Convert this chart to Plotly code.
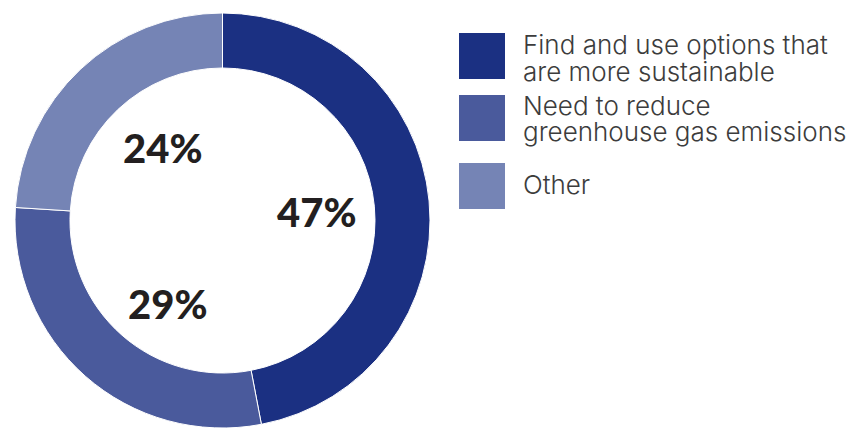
import plotly.graph_objects as go

# Survey shares
categories = [
    "Find and use options that are more sustainable",
    "Need to reduce greenhouse gas emissions",
    "Other",
]
values = [47, 29, 24]
colors = ["#1b3082", "#4a5a9c", "#7584b5"]

# legend text, split into display lines
legend_lines = [
    ["Find and use options that", "are more sustainable"],
    ["Need to reduce", "greenhouse gas emissions"],
    ["Other"],
]

W, H = 850, 428


def px(x):
    return x / W


def py(y):
    return 1 - y / H


fig = go.Figure(
    go.Pie(
        labels=categories,
        values=values,
        hole=0.735,
        sort=False,
        direction="clockwise",
        rotation=0,
        marker=dict(colors=colors, line=dict(color="white", width=1)),
        textinfo="none",
        hoverinfo="label+percent",
        showlegend=False,
        domain=dict(x=[px(15), px(430)], y=[0, py(13)]),
    )
)

# percentage labels inside the ring
label_pos = [(316, 212), (167, 304), (162, 148)]
annotations = []
for v, (x, y) in zip(values, label_pos):
    annotations.append(dict(
        x=px(x), y=py(y), xref="paper", yref="paper",
        text=f"{v}%", showarrow=False, xanchor="center", yanchor="middle",
        font=dict(family="Lato", size=40, color="#231f20", weight=900),
    ))

# legend swatches and text
swatch_top = [33, 95, 163]
line_mid = [[44, 71], [106, 131], [185]]
shapes = []
for i, c in enumerate(colors):
    t = swatch_top[i]
    shapes.append(dict(
        type="rect", xref="paper", yref="paper",
        x0=px(459), x1=px(505), y0=py(t + 46), y1=py(t),
        fillcolor=c, line=dict(width=0),
    ))
    for txt, ym in zip(legend_lines[i], line_mid[i]):
        annotations.append(dict(
            x=px(521), y=py(ym), xref="paper", yref="paper",
            text=txt, showarrow=False, xanchor="left", yanchor="middle",
            font=dict(family="Inter", size=26, color="#3c3c3c", weight=300),
        ))

fig.update_layout(
    width=W, height=H,
    margin=dict(l=0, r=0, t=0, b=0),
    paper_bgcolor="white", plot_bgcolor="white",
    shapes=shapes, annotations=annotations,
)

fig.write_html("out.html")
